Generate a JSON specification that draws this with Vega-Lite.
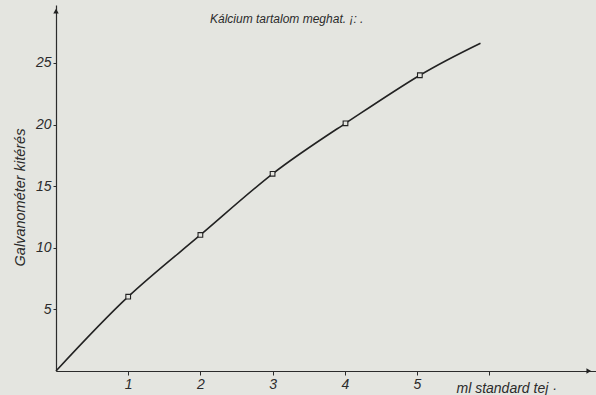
{
  "$schema": "https://vega.github.io/schema/vega-lite/v6.json",
  "width": 540,
  "height": 366,
  "autosize": {"type": "none"},
  "padding": {"left": 56, "top": 5, "right": 0, "bottom": 24},
  "background": "#e4e5e0",
  "config": {
    "view": {"stroke": null},
    "font": "Liberation Sans",
    "axis": {"domainColor": "#2b2b2b", "tickColor": "#2b2b2b", "labelColor": "#2b2b2b", "titleColor": "#2b2b2b", "grid": false, "labelFontStyle": "italic", "titleFontStyle": "italic", "titleFontWeight": "normal", "labelFontSize": 14, "domainWidth": 1.2, "tickWidth": 1}
  },
  "title": {
    "text": "Kálcium tartalom meghat. ¡:  .",
    "fontSize": 12, "fontStyle": "italic", "fontWeight": "normal", "color": "#2b2b2b",
    "anchor": "start", "frame": "group", "dx": 154, "offset": -21
  },
  "datasets": {
    "curve": [
      {"ml": 0, "kiteres": 0},
      {"ml": 1, "kiteres": 6.03},
      {"ml": 2, "kiteres": 11.04},
      {"ml": 3, "kiteres": 16.0},
      {"ml": 4.01, "kiteres": 20.1},
      {"ml": 5.04, "kiteres": 24.0},
      {"ml": 5.88, "kiteres": 26.6}
    ],
    "points": [
      {"ml": 1, "kiteres": 6.03},
      {"ml": 2, "kiteres": 11.04},
      {"ml": 3, "kiteres": 16.0},
      {"ml": 4.01, "kiteres": 20.1},
      {"ml": 5.04, "kiteres": 24.0}
    ],
    "arrows": [
      {"ml": 0, "kiteres": 29.2, "shape": "triangle-up"},
      {"ml": 7.38, "kiteres": 0, "shape": "triangle-right"}
    ]
  },
  "layer": [
    {
      "data": {"name": "curve"},
      "mark": {"type": "line", "interpolate": "natural", "color": "#222222", "strokeWidth": 1.6},
      "encoding": {
        "x": {"field": "ml", "type": "quantitative", "scale": {"domain": [0, 7.48], "nice": false, "zero": true},
          "axis": {"values": [1, 2, 3, 4, 5, 6], "format": "d", "labelExpr": "datum.value == 6 ? '' : datum.label", "tickSize": 4, "labelPadding": 2, "title": "ml  standard  tej   ·", "titleFontSize": 14, "titleX": 400, "titleY": 17, "titleAlign": "left", "titleBaseline": "middle"}},
        "y": {"field": "kiteres", "type": "quantitative", "scale": {"domain": [0, 29.7], "nice": false},
          "axis": {"values": [5, 10, 15, 20, 25], "format": "d", "tickSize": 3, "labelPadding": 2, "title": "Galvanométer  kitérés", "titleFontSize": 14.5, "titleX": -36, "titleY": 192, "titleAlign": "center", "titleAngle": -90, "titleBaseline": "middle"}}
      }
    },
    {
      "data": {"name": "points"},
      "mark": {"type": "point", "shape": "square", "filled": true, "fill": "#e4e5e0", "stroke": "#222222", "strokeWidth": 1.1, "size": 22, "opacity": 1},
      "encoding": {
        "x": {"field": "ml", "type": "quantitative"},
        "y": {"field": "kiteres", "type": "quantitative"}
      }
    },
    {
      "data": {"name": "arrows"},
      "mark": {"type": "point", "filled": true, "color": "#222222", "size": 30, "opacity": 1},
      "encoding": {
        "x": {"field": "ml", "type": "quantitative"},
        "y": {"field": "kiteres", "type": "quantitative"},
        "shape": {"field": "shape", "type": "nominal", "scale": null}
      }
    }
  ]
}
